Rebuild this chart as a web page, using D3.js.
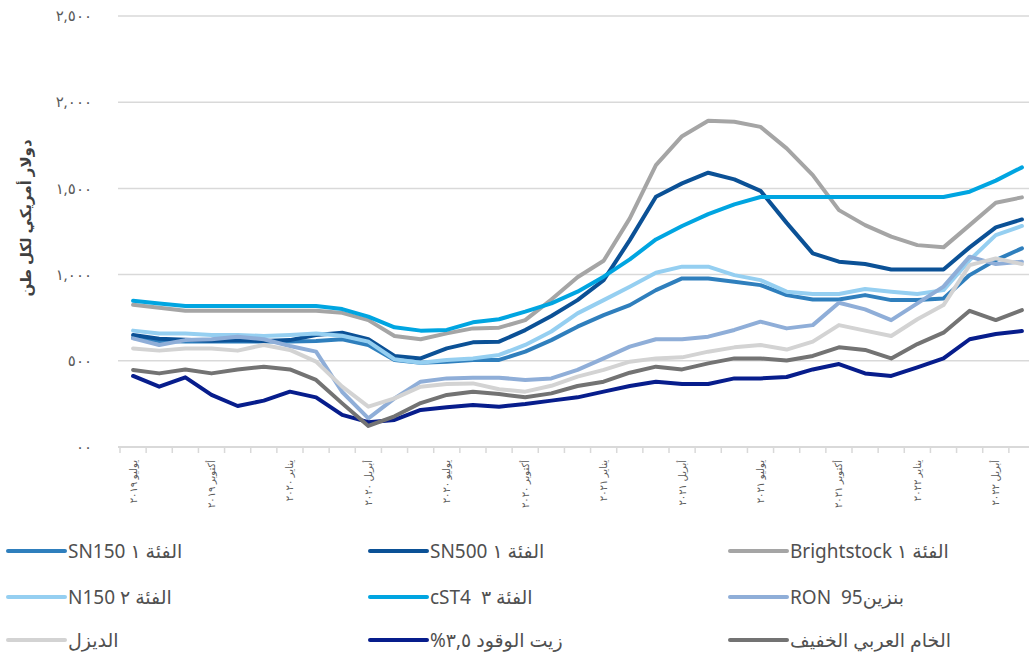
<!DOCTYPE html>
<html><head><meta charset="utf-8">
<script src="https://cdn.jsdelivr.net/npm/d3@7"></script>
<style>body{margin:0;background:#fff} svg{display:block} text{white-space:pre}</style>
</head><body><svg id="c" width="1029" height="654"></svg>
<script>
const categories = [
 "يوليو ٢٠١٩","أغسطس ٢٠١٩","سبتمبر ٢٠١٩","أكتوبر ٢٠١٩","نوفمبر ٢٠١٩","ديسمبر ٢٠١٩",
 "يناير ٢٠٢٠","فبراير ٢٠٢٠","مارس ٢٠٢٠","أبريل ٢٠٢٠","مايو ٢٠٢٠","يونيو ٢٠٢٠",
 "يوليو ٢٠٢٠","أغسطس ٢٠٢٠","سبتمبر ٢٠٢٠","أكتوبر ٢٠٢٠","نوفمبر ٢٠٢٠","ديسمبر ٢٠٢٠",
 "يناير ٢٠٢١","فبراير ٢٠٢١","مارس ٢٠٢١","أبريل ٢٠٢١","مايو ٢٠٢١","يونيو ٢٠٢١",
 "يوليو ٢٠٢١","أغسطس ٢٠٢١","سبتمبر ٢٠٢١","أكتوبر ٢٠٢١","نوفمبر ٢٠٢١","ديسمبر ٢٠٢١",
 "يناير ٢٠٢٢","فبراير ٢٠٢٢","مارس ٢٠٢٢","أبريل ٢٠٢٢","مايو ٢٠٢٢"];
const tickLabels = ["يوليو ٢٠١٩","أكتوبر ٢٠١٩","يناير ٢٠٢٠","أبريل ٢٠٢٠","يوليو ٢٠٢٠","أكتوبر ٢٠٢٠",
 "يناير ٢٠٢١","أبريل ٢٠٢١","يوليو ٢٠٢١","أكتوبر ٢٠٢١","يناير ٢٠٢٢","أبريل ٢٠٢٢"];
const yTicks = [0, 500, 1000, 1500, 2000, 2500];
const yTickLabels = ["٠٠", "٥٠٠", "١,٠٠٠", "١,٥٠٠", "٢,٠٠٠", "٢,٥٠٠"];
const yTitle = "دولار أمريكي لكل طن";

const seriesNames = ["الفئة ١ SN150", "الفئة ١ SN500", "الفئة ١ Brightstock",
 "الفئة ٢ N150", "الفئة ٣  cST4", "بنزين95  RON",
 "الديزل", "زيت الوقود ٣,٥%", "الخام العربي الخفيف"];
const seriesColors = ["#2f7fbd", "#0b5196", "#a5a5a5", "#95cff1", "#00a5e1", "#8faed8", "#d3d3d3", "#071d8c", "#737373"];

const sn150 = [632,615,612,612,612,612,612,615,625,592,505,489,495,505,505,553,620,698,765,823,910,978,978,959,939,881,856,856,881,852,852,862,997,1084,1152];
const sn500 = [650,628,622,616,620,615,620,650,663,625,528,514,572,607,611,678,760,852,968,1200,1452,1529,1591,1552,1486,1300,1123,1075,1061,1030,1030,1030,1158,1274,1320];
const brightstock = [825,808,790,790,790,790,790,790,778,736,644,625,659,688,692,736,855,985,1080,1326,1635,1803,1892,1887,1857,1732,1577,1374,1287,1220,1171,1158,1287,1417,1448];
const n150 = [675,659,659,650,650,644,650,659,645,611,509,489,505,514,534,592,670,775,852,930,1011,1046,1046,997,968,901,887,887,916,901,887,910,1084,1229,1282];
const cst4 = [848,833,818,818,818,818,818,818,800,756,694,675,679,723,741,785,833,901,988,1088,1204,1282,1351,1407,1450,1450,1450,1450,1450,1450,1450,1450,1481,1545,1622];
const ron95 = [630,592,620,625,640,625,586,553,319,166,282,379,398,402,402,389,398,447,514,582,625,625,640,679,727,688,707,837,798,736,833,930,1104,1061,1075];
const diesel = [572,559,572,572,559,592,563,495,350,234,282,350,365,369,335,321,355,408,447,495,514,520,553,578,592,565,611,707,675,644,741,823,1055,1094,1061];
const fuelOil = [412,350,404,302,238,269,321,288,186,144,157,215,230,244,234,249,269,288,321,354,379,365,365,398,398,406,450,481,427,412,462,514,625,655,673];
const arabLight = [447,427,450,427,450,466,450,389,253,122,178,255,302,321,307,288,311,354,379,431,466,450,485,514,514,502,528,578,563,514,597,663,790,736,794];

const seriesValues = [sn150, sn500, brightstock, n150, cst4, ron95, diesel, fuelOil, arabLight];

const svg = d3.select("#c");
const FONT = "'Noto Sans', 'DejaVu Sans', sans-serif";
const x = d3.scaleBand().domain(categories).range([120, 1035]);
const xc = c => x(c) + x.bandwidth() / 2;
const y = d3.scaleLinear().domain([0, 2500]).range([447, 16]);

// gridlines
svg.append("g").selectAll("line").data(yTicks.filter(d => d > 0)).join("line")
  .attr("x1", 118).attr("x2", 1035).attr("y1", d => y(d)).attr("y2", d => y(d))
  .attr("stroke", "#d9d9d9").attr("stroke-width", 1.5);

// x axis line and ticks
svg.append("line").attr("x1", 118).attr("x2", 1035).attr("y1", y(0)).attr("y2", y(0))
  .attr("stroke", "#d9d9d9").attr("stroke-width", 2);
const tickPos = categories.map(c => x(c)).concat([x.range()[1]]);
svg.append("g").selectAll("line").data(tickPos).join("line")
  .attr("x1", d => d).attr("x2", d => d).attr("y1", y(0)).attr("y2", y(0) + 6)
  .attr("stroke", "#d9d9d9").attr("stroke-width", 1.5);

// y tick labels
svg.append("g").selectAll("text").data(yTicks).join("text")
  .attr("x", 92).attr("y", d => y(d)).attr("dy", "0.35em")
  .attr("text-anchor", "end").attr("font-family", FONT).attr("font-size", 15)
  .attr("fill", "#595959").text((d, i) => yTickLabels[i]);

// y title
svg.append("text").attr("transform", "translate(26,218) rotate(-90)")
  .attr("text-anchor", "middle").attr("dy", "0.35em")
  .attr("font-family", FONT).attr("font-size", 15).attr("font-weight", "bold")
  .attr("fill", "#404040").text(yTitle);

// x labels
svg.append("g").selectAll("text").data(tickLabels).join("text")
  .attr("transform", d => `translate(${xc(d)},460) rotate(-90)`)
  .attr("text-anchor", "end").attr("dy", "0.35em")
  .attr("font-family", FONT).attr("font-size", 10).attr("fill", "#595959")
  .text(d => d);

// lines
const line = d3.line().x((d, i) => xc(categories[i])).y(d => y(d));
svg.append("g").selectAll("path").data(seriesValues).join("path")
  .attr("d", d => line(d)).attr("fill", "none")
  .attr("stroke", (d, i) => seriesColors[i]).attr("stroke-width", 4)
  .attr("stroke-linejoin", "round").attr("stroke-linecap", "round");

// legend
const colX = [8, 370, 730];
const rowY = [551, 597, 640];
const lg = svg.append("g").selectAll("g").data(seriesNames).join("g")
  .attr("transform", (d, i) => `translate(${colX[i % 3]},${rowY[Math.floor(i / 3)]})`);
lg.append("line").attr("x1", 0).attr("x2", 57).attr("y1", 0).attr("y2", 0)
  .attr("stroke", (d, i) => seriesColors[i]).attr("stroke-width", 4).attr("stroke-linecap", "round");
lg.append("text").attr("x", 60).attr("y", 0).attr("dy", "0.36em")
  .attr("font-family", FONT).attr("font-size", 19).attr("fill", "#505050")
  .text(d => "\u202B" + d + "\u202C");
</script></body></html>
